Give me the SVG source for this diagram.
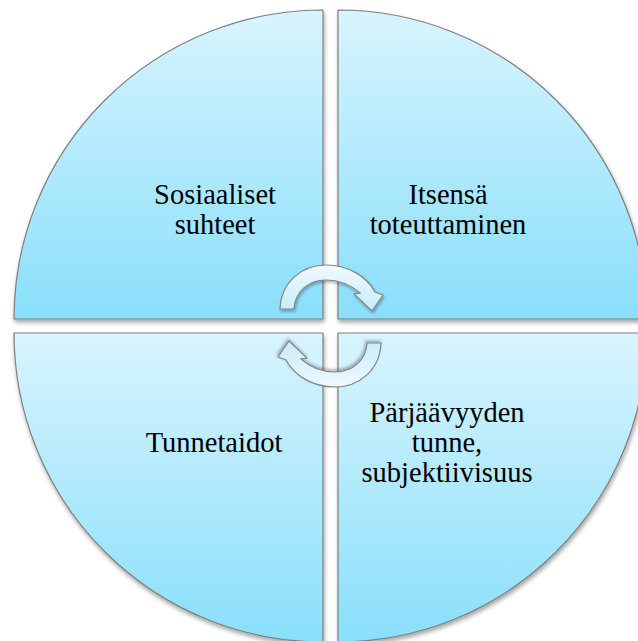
<svg xmlns="http://www.w3.org/2000/svg" width="638" height="641" viewBox="0 0 638 641">
  <defs>
    <linearGradient id="gq" x1="0" y1="0" x2="0" y2="1">
      <stop offset="0" stop-color="#d8f4fe"/>
      <stop offset="1" stop-color="#89dffb"/>
    </linearGradient>
    <linearGradient id="ga" x1="0" y1="0" x2="0" y2="1">
      <stop offset="0" stop-color="#f0fafe"/>
      <stop offset="1" stop-color="#c6ecfb"/>
    </linearGradient>
    <filter id="sh" x="-10%" y="-10%" width="120%" height="120%">
      <feDropShadow dx="1" dy="3" stdDeviation="2" flood-color="#000" flood-opacity="0.35"/>
    </filter>
    <filter id="sha" x="-20%" y="-20%" width="140%" height="140%">
      <feDropShadow dx="1" dy="2" stdDeviation="1.5" flood-color="#000" flood-opacity="0.3"/>
    </filter>
  </defs>
  <style>
    .q { fill: url(#gq); stroke: #7f7f7f; stroke-width: 1.2; filter: url(#sh); }
    .a { fill: url(#ga); stroke: #858585; stroke-width: 1.2; filter: url(#sha); }
    text { font-family: 'Liberation Serif', 'Times New Roman', Times, Tinos, 'Noto Serif', 'DejaVu Serif', 'Nimbus Roman', FreeSerif, serif; font-size: 28.5px; fill: #000; text-anchor: middle; }
  </style>
  <rect width="638" height="641" fill="#ffffff"/>
  <g id="node-sosiaaliset">
    <path class="q" d="M 323 319 L 14 319 A 309 309 0 0 1 323 10 Z"/>
    <text x="215" y="204">Sosiaaliset</text>
    <text x="215" y="234">suhteet</text>
  </g>
  <g id="node-itsensa">
    <path class="q" d="M 338 319 L 338 10 A 309 309 0 0 1 647 319 Z"/>
    <text x="448" y="204">Itsensä</text>
    <text x="448" y="234">toteuttaminen</text>
  </g>
  <g id="node-tunnetaidot">
    <path class="q" d="M 323 333 L 323 642 A 309 309 0 0 1 14 333 Z"/>
    <text x="214" y="452">Tunnetaidot</text>
  </g>
  <g id="node-parjaavyys">
    <path class="q" d="M 338 333 L 647 333 A 309 309 0 0 1 338 642 Z"/>
    <text x="447" y="422">Pärjäävyyden</text>
    <text x="447" y="452">tunne,</text>
    <text x="447" y="482">subjektiivisuus</text>
  </g>
  <g id="connectors">
    <path id="arrow-top" class="a" d="M 280 309 C 281 282 302 265 326 265 C 349 265 367 277 375 292 L 383 295 L 372 311 L 354 294 L 360 293 C 352 286 340 280 326 280 C 308 280 295 292 294 309 Z"/>
    <path id="arrow-bottom" class="a" transform="rotate(180 330.5 326)" d="M 280 309 C 281 282 302 265 326 265 C 349 265 367 277 375 292 L 383 295 L 372 311 L 354 294 L 360 293 C 352 286 340 280 326 280 C 308 280 295 292 294 309 Z"/>
  </g>
</svg>
